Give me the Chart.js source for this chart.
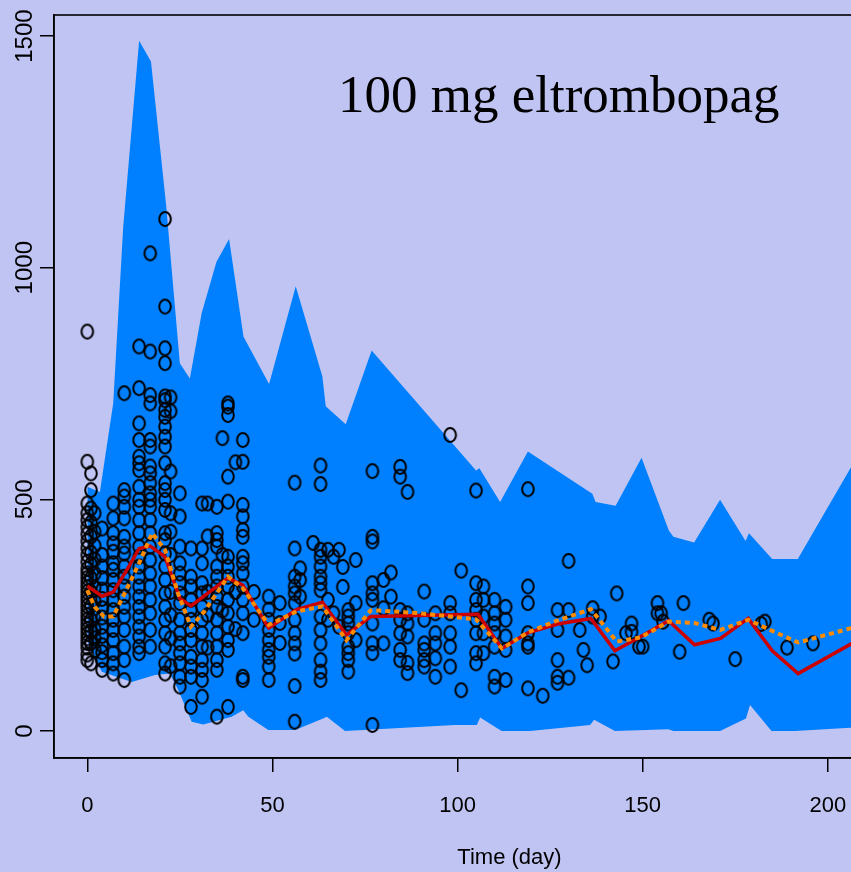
<!DOCTYPE html>
<html><head><meta charset="utf-8">
<script src="https://cdn.jsdelivr.net/npm/chart.js@4/dist/chart.umd.min.js"></script>
<style>
html,body{margin:0;padding:0;background:#c0c4f2;overflow:hidden;width:851px;height:872px;}
#wrap{position:relative;width:1000px;height:872px;}
canvas{display:block;}
</style></head><body>
<div id="wrap"><canvas id="c" width="1000" height="872"></canvas></div>
<script>
// ---- data ----
const xTicks = [0, 50, 100, 150, 200];
const yTicks = [0, 500, 1000, 1500];

// prediction interval band
const upperTime = [0, 3.4, 7, 9.7, 14, 17.2, 21.3, 25, 27.7, 30.9, 34.9, 38.3, 42.2, 49.1, 56.3, 63.5, 64.4, 69.8, 76.8, 105, 105.9, 111.5, 119, 136.4, 137.3, 142.7, 149.7, 157.1, 158.3, 163.9, 170.9, 177.8, 178.7, 185, 191.9, 213];
const upperVal  = [527, 516, 707, 1088, 1490, 1445, 1135, 794, 761, 902, 1013, 1062, 851, 749, 960, 765, 701, 662, 821, 562, 567, 494, 603, 512, 494, 486, 590, 432, 419, 407, 499, 410, 427, 371, 371, 662];
const lowerTime = [0, 3.9, 12, 18.3, 22.3, 24.6, 28.2, 31.3, 39, 42.1, 43.5, 48.9, 56.1, 63.7, 64.7, 69.6, 99.3, 105.2, 106.1, 111.9, 119.6, 135.8, 136.9, 142.5, 156.9, 158.3, 170.9, 177.9, 179, 184.8, 191.1, 213];
const lowerVal  = [195, 128, 106, 121, 124, 88, 20, 14, 31, 45, 31, 2, 2, 27, 31, 0, 13, 13, 29, 0, 0, 13, 24, 0, 4, 0, 0, 27, 56, 0, 0, 10];

// observed median (red) and predicted median (orange dotted)
const obsMedTime = [0, 4, 7, 10.5, 14, 17, 21, 25, 28, 38, 42, 49, 56.5, 63.5, 70, 76.5, 105.5, 112, 119, 127, 136, 142.5, 149.5, 157, 164, 171, 178.5, 185, 192, 206.3, 215];
const obsMedVal  = [313, 291, 300, 345, 394, 399, 376, 286, 270, 330, 315, 222, 262, 278, 207, 247, 252, 178, 212, 231, 243, 173, 204, 238, 186, 200, 243, 173, 124, 188, 215];
const predMedTime = [0, 2, 4.5, 7, 10.5, 14, 17.5, 21, 24.5, 28, 31.5, 38, 42, 49, 56.5, 63.5, 70, 76.5, 79, 90, 105, 112, 119, 126.5, 136, 143, 149.5, 157, 164, 171, 178.5, 185, 192, 206.3, 215];
const predMedVal  = [304, 268, 247, 247, 304, 362, 427, 391, 297, 225, 257, 333, 308, 229, 258, 269, 196, 260, 260, 254, 241, 178, 213, 237, 263, 193, 202, 236, 233, 218, 240, 216, 191, 222, 230];

// observed platelet counts, grouped by visit day
const obsDays = [0, 1, 2, 4, 7, 10, 14, 17, 21, 22.5, 25, 28, 31, 32.5, 35, 36.5, 38, 40, 42, 45, 49, 52, 56, 57.5, 61, 63, 65, 66.5, 68, 69, 70.5, 72.5, 77, 80, 82, 84.5, 86.5, 91, 94, 98, 101, 105, 107, 110, 113, 119, 123, 127, 130, 133, 134, 135, 136.5, 138.5, 142, 143, 145.5, 147, 149, 150, 154, 155, 155.5, 160, 161, 168, 169, 175, 182, 183, 189, 196];
const obsVals = [
  [862, 581, 491, 470, 455, 440, 425, 410, 395, 380, 365, 350, 340, 330, 320, 310, 300, 290, 280, 270, 260, 250, 240, 230, 220, 210, 200, 190, 180, 165, 153],
  [556, 520, 480, 450, 420, 385, 360, 330, 300, 270, 240, 215, 190, 146],
  [470, 430, 400, 370, 340, 310, 280, 250, 220, 200, 175],
  [437, 380, 355, 330, 305, 285, 265, 245, 225, 205, 185, 170, 153, 132],
  [491, 459, 427, 405, 387, 362, 348, 326, 304, 283, 261, 240, 218, 196, 168, 146, 124],
  [729, 520, 506, 484, 459, 419, 398, 383, 355, 333, 312, 290, 268, 247, 218, 182, 153, 110],
  [830, 740, 664, 628, 592, 578, 563, 527, 499, 484, 455, 427, 398, 376, 355, 333, 312, 290, 268, 247, 225, 204, 182, 168],
  [1031, 819, 725, 707, 628, 614, 571, 556, 535, 513, 499, 484, 455, 427, 398, 369, 340, 312, 283, 254, 218, 182],
  [1105, 916, 826, 794, 722, 714, 693, 678, 657, 635, 614, 578, 535, 520, 499, 477, 427, 412, 383, 355, 326, 297, 268, 240, 211, 182, 146, 124],
  [720, 690, 560, 470, 430, 380, 300, 250, 200, 140],
  [513, 463, 398, 362, 340, 319, 297, 276, 240, 211, 189, 168, 146, 117, 96],
  [394, 333, 312, 283, 261, 240, 218, 196, 160, 139, 117, 52],
  [491, 394, 362, 319, 297, 268, 240, 211, 182, 153, 132, 110, 74],
  [491, 420, 300, 250, 180],
  [484, 427, 412, 398, 355, 333, 312, 290, 268, 240, 211, 182, 153, 132, 31],
  [632, 380, 260],
  [707, 700, 682, 549, 495, 376, 355, 333, 312, 283, 254, 225, 196, 175, 52],
  [580, 300, 220],
  [628, 581, 488, 463, 434, 419, 376, 362, 340, 312, 283, 254, 211, 117, 110],
  [300, 240],
  [290, 262, 240, 218, 196, 175, 160, 139, 110],
  [276, 233, 190],
  [536, 394, 333, 312, 297, 276, 240, 211, 189, 167, 97, 20],
  [351, 326, 290],
  [406],
  [573, 533, 391, 376, 355, 333, 319, 304, 247, 218, 189, 153, 128, 110],
  [391, 283, 240],
  [376, 254],
  [391, 225],
  [354, 311],
  [261, 247, 232, 211, 182, 168, 153, 128],
  [369, 276, 196],
  [561, 419, 409, 319, 297, 283, 232, 189, 168, 13],
  [326, 265, 189],
  [342, 290],
  [570, 549, 261, 240, 211, 175, 153],
  [516, 254, 232, 204, 147, 125],
  [301, 240, 189, 175, 153, 139],
  [254, 211, 189, 157, 117],
  [639, 276, 254, 211, 182, 139],
  [346, 88],
  [519, 319, 283, 261, 240, 211, 168, 146],
  [312, 283, 247, 211, 168],
  [283, 254, 232, 211, 182, 117, 96],
  [268, 240, 204, 175, 110],
  [522, 312, 276, 211, 189, 182, 92],
  [76],
  [261, 218, 153, 117, 104],
  [367, 261, 115],
  [218], [175], [142],
  [265, 247], [247], [150], [297], [211], [232, 214], [182], [182],
  [276, 254], [254], [236], [171], [276], [240], [232], [155], [231], [236], [180], [189]
];

// ---- build chart ----
const pairs = (t, v) => t.map((x, i) => ({x: x, y: v[i]}));
const obsPoints = [];
obsDays.forEach((d, i) => obsVals[i].forEach(v => obsPoints.push({x: d, y: v})));

const ring = document.createElement('canvas');
ring.width = 16; ring.height = 18;
const rg = ring.getContext('2d');
rg.lineWidth = 2; rg.strokeStyle = '#000';
rg.beginPath(); rg.ellipse(8, 9, 5.8, 6.9, 0, 0, Math.PI * 2); rg.stroke();

const sansFont = "'Liberation Sans', Arial, Helvetica, sans-serif";

const framePlugin = {
  id: 'frame',
  afterDatasetsDraw(chart) {
    const {ctx} = chart;
    ctx.save();
    ctx.fillStyle = '#000';
    ctx.font = "53px 'Liberation Serif', 'Times New Roman', serif";
    ctx.textBaseline = 'alphabetic';
    ctx.fillText('100 mg eltrombopag', 338, 112);
    ctx.restore();
  },
  afterDraw(chart) {
    const {ctx, chartArea: a} = chart;
    ctx.save();
    ctx.strokeStyle = '#000';
    ctx.lineWidth = 1.6;
    ctx.strokeRect(a.left, a.top, a.right - a.left, a.bottom - a.top);
    ctx.restore();
  }
};

const xMin = -8.99, xMax = 237.06;
const yMin = -58.3, yMax = 1545.4;

new Chart(document.getElementById('c'), {
  type: 'line',
  data: {
    datasets: [
      {label: 'Observed median', data: pairs(obsMedTime, obsMedVal), borderColor: '#cc0000', borderWidth: 3.5, pointRadius: 0, fill: false, order: 1, tension: 0},
      {label: 'Predicted median', data: pairs(predMedTime, predMedVal), borderColor: '#ff8c00', borderWidth: 4, borderDash: [5, 4], borderCapStyle: 'butt', pointRadius: 0, fill: false, order: 0, tension: 0},
      {label: 'Observed', data: obsPoints, showLine: false, pointStyle: ring, pointRadius: 8, order: 2},
      {label: 'Upper', data: pairs(upperTime, upperVal), borderColor: 'rgba(0,0,0,0)', borderWidth: 0, pointRadius: 0, backgroundColor: '#0080ff', fill: '+1', order: 3, tension: 0},
      {label: 'Lower', data: pairs(lowerTime, lowerVal), borderColor: 'rgba(0,0,0,0)', borderWidth: 0, pointRadius: 0, fill: false, order: 4, tension: 0}
    ]
  },
  options: {
    responsive: false,
    devicePixelRatio: 1,
    animation: false,
    events: [],
    layout: {padding: {top: 15, right: 35, left: 0, bottom: 0}},
    plugins: {legend: {display: false}, tooltip: {enabled: false}, title: {display: false}},
    scales: {
      x: {
        type: 'linear', min: xMin, max: xMax,
        afterBuildTicks: s => { s.ticks = xTicks.map(v => ({value: v})); },
        afterFit: s => { s.height = 114; },
        grid: {drawOnChartArea: false, drawTicks: true, tickLength: 14, color: '#000', lineWidth: 1.5},
        border: {display: true, color: '#000', width: 1.5},
        ticks: {color: '#000', font: {family: sansFont, size: 22}, padding: 21, minRotation: 0, maxRotation: 0, callback: v => String(v)},
        title: {display: true, text: 'Time (day)', color: '#000', font: {family: sansFont, size: 22}, padding: {top: 0, bottom: 1}}
      },
      y: {
        type: 'linear', min: yMin, max: yMax,
        afterBuildTicks: s => { s.ticks = yTicks.map(v => ({value: v})); },
        afterFit: s => { s.width = 54; },
        grid: {drawOnChartArea: false, drawTicks: true, tickLength: 14, color: '#000', lineWidth: 1.5},
        border: {display: true, color: '#000', width: 1.5},
        ticks: {color: '#000', font: {family: sansFont, size: 24}, padding: -12, minRotation: 90, maxRotation: 90, crossAlign: 'center', callback: v => String(v)}
      }
    }
  },
  plugins: [framePlugin]
});
</script>
</body></html>
